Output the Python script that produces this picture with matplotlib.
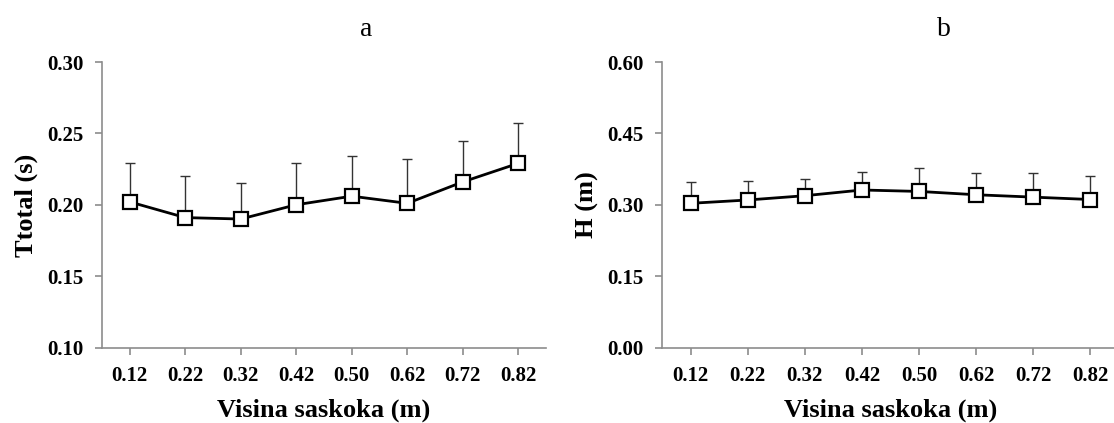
import matplotlib
matplotlib.use("Agg")
import matplotlib.pyplot as plt
import numpy as np

plt.rcParams['font.family'] = ['Liberation Serif', 'DejaVu Serif']

# data
heights = ["0.12", "0.22", "0.32", "0.42", "0.50", "0.62", "0.72", "0.82"]
ttotal_mean = [0.202, 0.191, 0.190, 0.200, 0.206, 0.201, 0.216, 0.229]
ttotal_top = [0.229, 0.220, 0.215, 0.229, 0.234, 0.232, 0.245, 0.257]
h_mean = [0.303, 0.310, 0.319, 0.331, 0.328, 0.321, 0.316, 0.311]
h_top = [0.347, 0.350, 0.355, 0.368, 0.378, 0.366, 0.366, 0.361]

fig = plt.figure(figsize=(11.14, 4.23), dpi=100)
W, H = 1114, 423

def panel(x0, x1, mean, top, ylim, yticks, ylabel, ylabel_x, title, title_x):
    ax = fig.add_axes([x0 / W, 1 - 347.5 / H, (x1 - x0) / W, (347.5 - 62) / H])
    x = np.arange(len(heights))
    err = [np.zeros(len(mean)), np.array(top) - np.array(mean)]
    ax.errorbar(x, mean, yerr=err, fmt='none', ecolor='#333333', elinewidth=1,
                capsize=3.8, capthick=1, zorder=1)
    ax.plot(x, mean, color='black', lw=2, marker='s', ms=10,
            mfc='white', mec='black', mew=1.6, zorder=3)
    ax.set_xlim(-0.5, len(heights) - 0.5)
    ax.set_ylim(*ylim)
    ax.set_yticks(yticks)
    ax.set_yticklabels([f"{v:.2f}" for v in yticks])
    ax.set_xticks(x)
    ax.set_xticklabels(heights)
    for s in ['top', 'right']:
        ax.spines[s].set_visible(False)
    for s in ['left', 'bottom']:
        ax.spines[s].set_color('#8c8c8c')
        ax.spines[s].set_linewidth(1.2)
        ax.spines[s].set_clip_on(False)
    ax.tick_params(direction='out', length=5, color='#8c8c8c', width=1.2,
                   labelsize=15)
    ax.tick_params(axis='y', pad=8)
    ax.tick_params(axis='x', pad=8)
    for lab in ax.get_xticklabels() + ax.get_yticklabels():
        lab.set_fontweight('bold')
    yc = 1 - 205 / H
    fig.text(ylabel_x / W, yc, ylabel, fontsize=19, fontweight='bold',
             rotation=90, ha='center', va='center')
    fig.text(title_x / W, 1 - 29 / H, title, fontsize=20, ha='center', va='center')
    fig.text((x0 + x1) / 2 / W, 1 - 417 / H, "Visina saskoka (m)", fontsize=19,
             fontweight='bold', ha='center', va='baseline')
    return ax

panel(102, 546, ttotal_mean, ttotal_top, (0.10, 0.30),
      [0.10, 0.15, 0.20, 0.25, 0.30], "Ttotal (s)", 26, "a", 366)
panel(662, 1119, h_mean, h_top, (0.0, 0.60),
      [0.00, 0.15, 0.30, 0.45, 0.60], "H (m)", 587, "b", 944)

fig.savefig("out.png", dpi=100)
